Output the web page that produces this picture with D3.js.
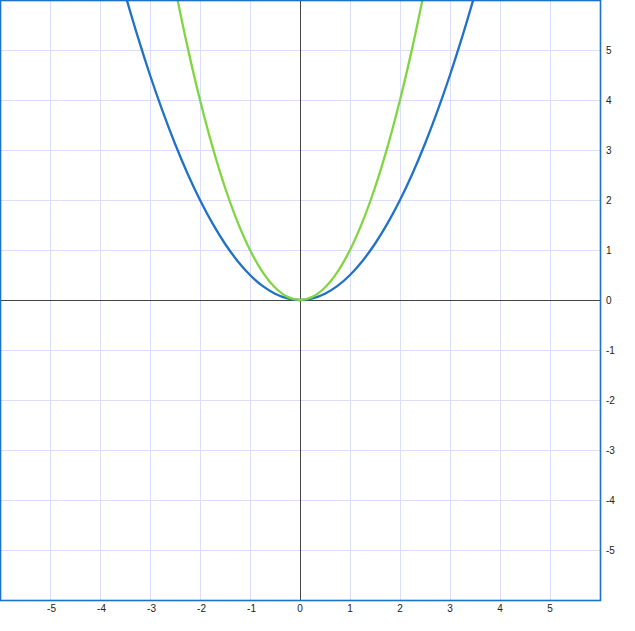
<!DOCTYPE html>
<html><head><meta charset="utf-8">
<script src="https://cdn.jsdelivr.net/npm/d3@7"></script>
<style>html,body{margin:0;padding:0;background:#fff;}svg{display:block;}</style>
</head><body>
<script>
const xTicks = [-5,-4,-3,-2,-1,0,1,2,3,4,5];
const yTicks = [-5,-4,-3,-2,-1,0,1,2,3,4,5];
const blueX = [-3.5,-3.25,-3,-2.75,-2.5,-2.25,-2,-1.75,-1.5,-1.25,-1,-0.75,-0.5,-0.25,0,0.25,0.5,0.75,1,1.25,1.5,1.75,2,2.25,2.5,2.75,3,3.25,3.5];
const blueY = [6.125,5.28125,4.5,3.78125,3.125,2.53125,2,1.53125,1.125,0.78125,0.5,0.28125,0.125,0.03125,0,0.03125,0.125,0.28125,0.5,0.78125,1.125,1.53125,2,2.53125,3.125,3.78125,4.5,5.28125,6.125];
const greenX = [-2.5,-2.25,-2,-1.75,-1.5,-1.25,-1,-0.75,-0.5,-0.25,0,0.25,0.5,0.75,1,1.25,1.5,1.75,2,2.25,2.5];
const greenY = [6.25,5.0625,4,3.0625,2.25,1.5625,1,0.5625,0.25,0.0625,0,0.0625,0.25,0.5625,1,1.5625,2.25,3.0625,4,5.0625,6.25];

const W = 635, H = 631;
const svg = d3.select("body").append("svg").attr("width", W).attr("height", H);
const x = d3.scaleLinear().domain([-6, 6]).range([0, 600]);
const y = d3.scaleLinear().domain([-6, 6]).range([600, 0]);

// grid
svg.append("g").selectAll("line").data(xTicks.filter(d => d !== 0)).join("line")
  .attr("x1", d => x(d)).attr("x2", d => x(d)).attr("y1", 0).attr("y2", 600)
  .attr("stroke", "#dcdcfc").attr("stroke-width", 1).attr("shape-rendering", "crispEdges");
svg.append("g").selectAll("line").data(yTicks.filter(d => d !== 0)).join("line")
  .attr("y1", d => y(d)).attr("y2", d => y(d)).attr("x1", 0).attr("x2", 600)
  .attr("stroke", "#dcdcfc").attr("stroke-width", 1).attr("shape-rendering", "crispEdges");

// axes lines through origin
svg.append("line").attr("x1", x(0)).attr("x2", x(0)).attr("y1", 0).attr("y2", 600)
  .attr("stroke", "#444").attr("stroke-width", 1).attr("shape-rendering", "crispEdges");
svg.append("line").attr("y1", y(0)).attr("y2", y(0)).attr("x1", 0).attr("x2", 600)
  .attr("stroke", "#444").attr("stroke-width", 1).attr("shape-rendering", "crispEdges");

// clip
svg.append("clipPath").attr("id", "clip").append("rect").attr("x", 0).attr("y", 0).attr("width", 600).attr("height", 600);

const line = d3.line().x(d => x(d[0])).y(d => y(d[1])).curve(d3.curveCatmullRom);
const g = svg.append("g").attr("clip-path", "url(#clip)");
g.append("path").datum(blueX.map((v, i) => [v, blueY[i]])).attr("d", line)
  .attr("fill", "none").attr("stroke", "#1f72c4").attr("stroke-width", 2.3);
g.append("path").datum(greenX.map((v, i) => [v, greenY[i]])).attr("d", line)
  .attr("fill", "none").attr("stroke", "#80d642").attr("stroke-width", 2.3);

// border
svg.append("rect").attr("x", 0.5).attr("y", 0.5).attr("width", 600).attr("height", 600)
  .attr("fill", "none").attr("stroke", "#1a73c8").attr("stroke-width", 1.6);

// tick labels
const font = "'Liberation Sans', Arial, sans-serif";
svg.append("g").selectAll("text").data(xTicks).join("text")
  .attr("x", d => x(d) + (d < 0 ? 1.5 : 0)).attr("y", 611.5).attr("text-anchor", "middle")
  .attr("font-family", font).attr("font-size", 10).attr("fill", "#222").text(d => d);
svg.append("g").selectAll("text").data(yTicks).join("text")
  .attr("x", 606).attr("y", d => y(d) + 4).attr("text-anchor", "start")
  .attr("font-family", font).attr("font-size", 10).attr("fill", "#222").text(d => d);
</script>
</body></html>
